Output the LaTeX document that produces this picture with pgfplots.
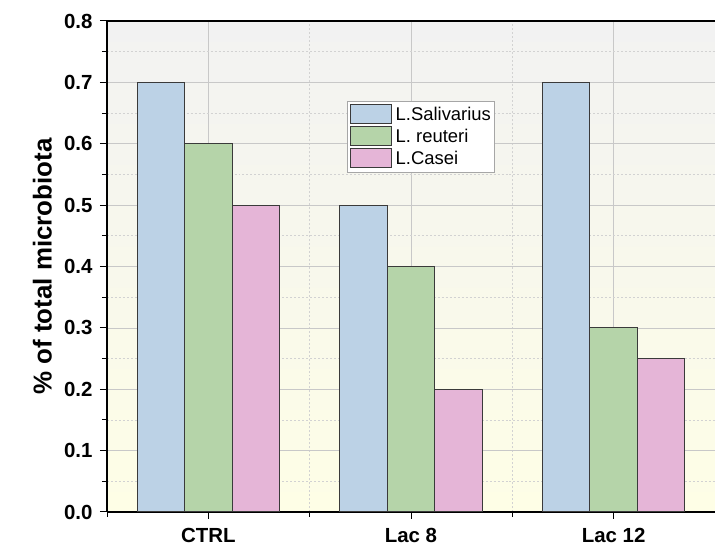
\documentclass[border=0pt]{standalone}
\usepackage{fontspec}
\setmainfont{Liberation Sans}
\usepackage{pgfplots}
\pgfplotsset{compat=1.18}

\definecolor{salblue}{HTML}{BCD2E6}
\definecolor{reugreen}{HTML}{B5D4A9}
\definecolor{caspink}{HTML}{E5B5D7}
\definecolor{edgegray}{HTML}{3A3A3A}
\definecolor{bgtop}{HTML}{F2F2F2}
\definecolor{bgbottom}{HTML}{FEFEE6}
\definecolor{gridmaj}{HTML}{C8C8C8}
\definecolor{gridmin}{HTML}{D2D2D2}

\begin{document}
\begin{tikzpicture}
\begin{axis}[
  scale only axis,
  width=608bp, height=491bp,
  ybar,
  bar width=0.234,
  xmin=-0.5, xmax=2.5, ymin=0, ymax=0.8,
  xtick={0,1,2},
  xticklabels={CTRL, Lac 8, Lac 12},
  minor xtick={-0.5,0.5,1.5,2.5},
  ytick={0,0.1,0.2,0.3,0.4,0.5,0.6,0.7,0.8},
  minor ytick={0.05,0.15,0.25,0.35,0.45,0.55,0.65,0.75},
  /pgf/number format/assume math mode=true,
  ticklabel style={font=\fontsize{20.5}{22}\selectfont\bfseries},
  xticklabel style={yshift=-6bp},
  yticklabel style={xshift=-4bp, /pgf/number format/.cd, fixed, fixed zerofill, precision=1},
  grid=both,
  major grid style={solid, gridmaj, line width=0.7pt},
  minor grid style={gridmin, line width=0.7pt, dash pattern=on 2pt off 2pt},
  axis x line*=bottom,
  axis y line*=left,
  axis line style={black, line width=1.3pt},
  tick align=outside,
  major tick length=7bp,
  minor tick length=5bp,
  every tick/.style={black, line width=1pt},
  axis background/.style={top color=bgtop, bottom color=bgbottom},
  ylabel={\% of total microbiota},
  ylabel style={at={(rel axis cs:-0.0905,0.5)}, anchor=south, inner sep=0pt,
    font=\fontsize{26}{28}\selectfont\bfseries},
  legend style={at={(rel axis cs:0.395,0.837)}, anchor=north west,
    draw=gray!70, fill=white, line width=0.6pt,
    font=\fontsize{18.5}{20}\selectfont, row sep=0pt, column sep=2.5bp,
    inner sep=2.5bp,
    nodes={text height=13.5bp, text depth=3.8bp, inner sep=1.2bp, outer sep=0pt},
    cells={anchor=west}},
  legend image code/.code={\draw[#1] (0bp,-7.5bp) rectangle (41bp,11.5bp);},
  every axis plot/.append style={draw=edgegray, line width=1pt},
]
% L. salivarius
\addplot[fill=salblue, bar shift=-0.234] coordinates {(0,0.70) (1,0.50) (2,0.70)};
% L. reuteri
\addplot[fill=reugreen, bar shift=0] coordinates {(0,0.60) (1,0.40) (2,0.30)};
% L. casei
\addplot[fill=caspink, bar shift=0.234] coordinates {(0,0.50) (1,0.20) (2,0.25)};
\legend{L.Salivarius, L. reuteri, L.Casei}
\draw[black, line width=1.3pt] (rel axis cs:0,1) -- (rel axis cs:1,1);
\coordinate (ll) at (rel axis cs:0,0);
\coordinate (ur) at (rel axis cs:1,1);
\end{axis}
\pgfresetboundingbox
\path ([shift={(-107bp,-46bp)}]ll) rectangle ([shift={(0bp,21bp)}]ur);
\end{tikzpicture}
\end{document}
